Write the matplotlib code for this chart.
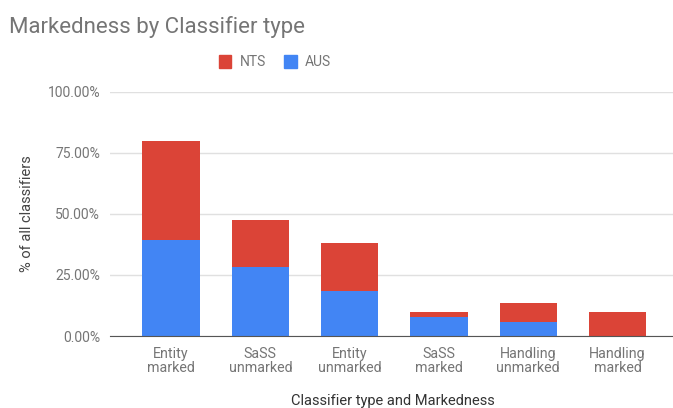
import matplotlib.pyplot as plt
import numpy as np
from matplotlib.patches import Patch

categories = ['Entity\nmarked', 'SaSS\nunmarked', 'Entity\nunmarked',
              'SaSS\nmarked', 'Handling\nunmarked', 'Handling\nmarked']
aus = [39.3, 28.4, 18.5, 7.6, 5.7, 0.0]
nts = [40.6, 19.1, 19.4, 2.4, 7.7, 10.0]

red = '#db4437'
blue = '#4285f4'
grey = '#757575'

plt.rcParams['font.family'] = ['Roboto', 'DejaVu Sans']

fig = plt.figure(figsize=(6.73, 4.08), dpi=100)
ax = fig.add_axes([110 / 673, 1 - 336 / 408, 1 - 110 / 673, (336 - 91.6) / 408])

x = np.arange(len(categories))
ax.bar(x, aus, width=0.64, color=blue, zorder=3)
ax.bar(x, nts, bottom=aus, width=0.64, color=red, zorder=3)

ax.set_xlim(-0.683, 5.62)
ax.set_ylim(0, 100)
ax.set_yticks([0, 25, 50, 75, 100])
ax.set_yticklabels(['0.00%', '25.00%', '50.00%', '75.00%', '100.00%'])
ax.set_xticks(x)
ax.set_xticklabels(categories, linespacing=0.95)
ax.tick_params(axis='y', length=0, pad=7, labelsize=10, labelcolor=grey)
ax.tick_params(axis='x', length=0, pad=8, labelsize=10.3, labelcolor=grey)

ax.grid(axis='y', color='#e0e0e0', linewidth=1, zorder=0)
for s in ['top', 'right', 'left']:
    ax.spines[s].set_visible(False)
ax.spines['bottom'].set_color('#555555')
ax.spines['bottom'].set_zorder(4)

ax.set_ylabel('% of all classifiers', fontsize=10.5, color='#444444', labelpad=10)
fig.text(393 / 673, 1 - 401 / 408, 'Classifier type and Markedness',
         fontsize=10.5, color='#333333', ha='center', va='center')
fig.text(9 / 673, 1 - 27 / 408, 'Markedness by Classifier type',
         fontsize=16, color=grey, ha='left', va='center')

handles = [Patch(color=red, label='NTS'), Patch(color=blue, label='AUS')]
fig.legend(handles=handles, loc='center', bbox_to_anchor=(275 / 673, 1 - 62 / 408),
           ncol=2, frameon=False, fontsize=10, labelcolor=grey,
           handlelength=0.9, handleheight=1.1, handletextpad=0.6, columnspacing=1.3)

fig.savefig('out.png', dpi=100)
